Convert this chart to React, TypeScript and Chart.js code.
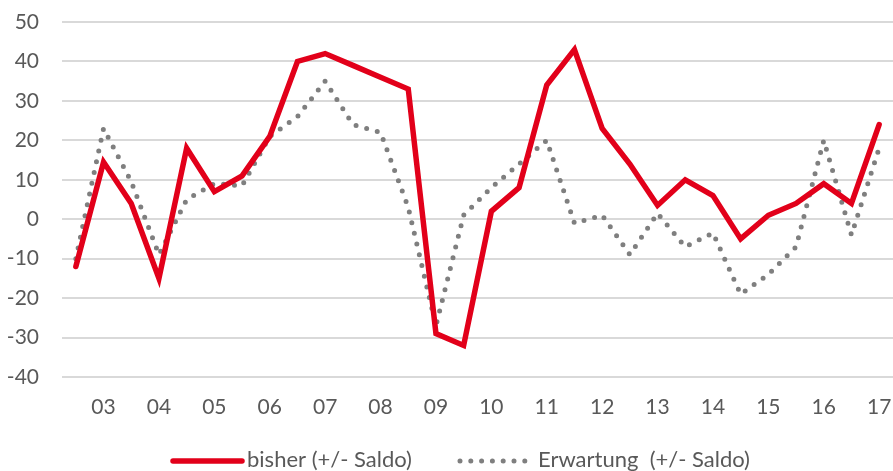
import React, { useEffect, useRef } from "react";
import { Chart, registerables } from "chart.js";

Chart.register(...registerables);

// Half-yearly observations, tick label on every second category
const categories = [
  "", "03", "", "04", "", "05", "", "06", "", "07", "", "08", "", "09", "", "10",
  "", "11", "", "12", "", "13", "", "14", "", "15", "", "16", "", "17",
];

const bisher = [
  -12, 14.5, 4, -15, 18, 7, 11, 21, 40, 42, 39, 36, 33, -29, -32, 2,
  8, 34, 43, 23, 14, 3.5, 10, 6, -5, 1, 4, 9, 4, 24,
];

const erwartung = [
  -10, 23, 9.5, -9, 5, 9, 8.5, 21, 26, 35, 24, 22, 3, -27, 1, 8,
  14, 20, -1, 1, -9, 1.5, -7, -3.5, -19, -14, -7, 20, -4, 18,
];

const seriesNames = ["bisher (+/- Saldo)", "Erwartung  (+/- Saldo)"];

const yMin = -40;
const yMax = 50;
const yStep = 10;

const RED = "#e2001a";
const GREY = "#7f7f7f";
const TEXT = "#595959";
const FONT = "Lato";

const legendPlugin = {
  id: "bottomLegend",
  afterDraw(chart: any) {
    const ctx = chart.ctx as CanvasRenderingContext2D;
    ctx.save();
    const lineY = 461;
    const textY = 467;
    ctx.font = `22px ${FONT}`;
    ctx.fillStyle = TEXT;
    ctx.textAlign = "left";
    ctx.textBaseline = "alphabetic";

    // item 1: solid red line
    ctx.strokeStyle = RED;
    ctx.lineWidth = 5.5;
    ctx.lineCap = "round";
    ctx.setLineDash([]);
    ctx.beginPath();
    ctx.moveTo(173, lineY);
    ctx.lineTo(242, lineY);
    ctx.stroke();
    ctx.fillText(seriesNames[0], 247, textY);

    // item 2: grey dotted line
    ctx.strokeStyle = GREY;
    ctx.lineWidth = 5;
    ctx.lineCap = "round";
    ctx.setLineDash([0, 10.8]);
    ctx.beginPath();
    ctx.moveTo(460, lineY);
    ctx.lineTo(526, lineY);
    ctx.stroke();
    ctx.setLineDash([]);
    ctx.fillText(seriesNames[1], 538, textY);
    ctx.restore();
  },
};

export default function App() {
  const canvasRef = useRef<HTMLCanvasElement | null>(null);

  useEffect(() => {
    document.body.style.margin = "0";
    const canvas = canvasRef.current;
    if (!canvas) return;
    const chart = new Chart(canvas, {
      type: "line",
      data: {
        labels: categories,
        datasets: [
          {
            label: seriesNames[0],
            data: bisher,
            borderColor: RED,
            backgroundColor: RED,
            borderWidth: 5.5,
            borderCapStyle: "round",
            borderJoinStyle: "miter",
            pointRadius: 0,
            tension: 0,
          },
          {
            label: seriesNames[1],
            data: erwartung,
            borderColor: GREY,
            backgroundColor: GREY,
            borderWidth: 5,
            borderDash: [0, 11],
            borderCapStyle: "round",
            pointRadius: 0,
            tension: 0,
          },
        ],
      },
      options: {
        animation: false,
        responsive: true,
        maintainAspectRatio: false,
        layout: { padding: { top: 22, right: 0, left: 0, bottom: 0 } },
        plugins: {
          legend: { display: false },
          tooltip: { enabled: false },
        },
        scales: {
          x: {
            type: "category",
            offset: true,
            grid: { display: false, drawTicks: false },
            border: { display: false },
            ticks: {
              autoSkip: false,
              maxRotation: 0,
              minRotation: 0,
              padding: 18,
              color: TEXT,
              font: { family: FONT, size: 21 },
            },
            afterFit(scale: any) {
              scale.height = 94;
              scale.paddingLeft = 0;
              scale.paddingRight = 0;
            },
          },
          y: {
            min: yMin,
            max: yMax,
            grid: { color: "#d9d9d9", lineWidth: 2, drawTicks: false },
            border: { display: false },
            ticks: {
              stepSize: yStep,
              padding: 23,
              color: TEXT,
              font: { family: FONT, size: 21 },
            },
            afterFit(scale: any) {
              scale.width = 62;
              scale.paddingTop = 0;
              scale.paddingBottom = 0;
            },
          },
        },
      },
      plugins: [legendPlugin],
    });
    return () => chart.destroy();
  }, []);

  return (
    <div style={{ width: 893, height: 471, position: "relative" }}>
      <canvas ref={canvasRef} />
    </div>
  );
}
